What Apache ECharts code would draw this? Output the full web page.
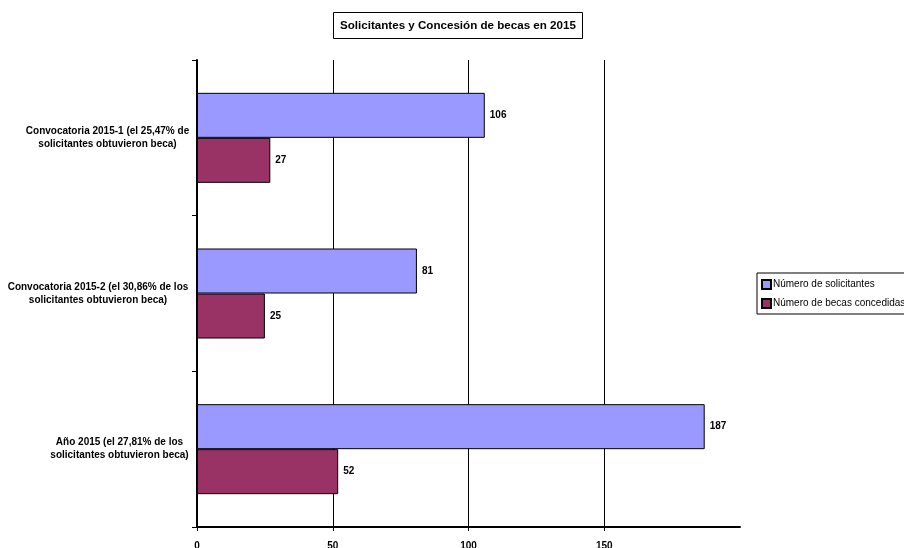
<!DOCTYPE html>
<html><head><meta charset="utf-8">
<script src="https://cdn.jsdelivr.net/npm/echarts@6/dist/echarts.min.js"></script>
<style>html,body{margin:0;padding:0;background:#fff}#c{width:904px;height:548px}</style>
</head><body><div id="c"></div>
<script>
const categories = [
  "Convocatoria 2015-1 (el 25,47% de\nsolicitantes obtuvieron beca)",
  "Convocatoria 2015-2 (el 30,86% de los\nsolicitantes obtuvieron beca)",
  "Año 2015 (el 27,81% de los\nsolicitantes obtuvieron beca)"
];
const seriesNames = ["Número de solicitantes", "Número de becas concedidas"];
const solicitantes = [106, 81, 187];
const concedidas = [27, 25, 52];
const xTicks = [0, 50, 100, 150];

const FONT = '"Liberation Sans Narrow", "Arial Narrow", "Liberation Sans", sans-serif';
const labelWidths = [161, 180, 137];

const chart = echarts.init(document.getElementById('c'), null, {renderer: 'canvas'});
chart.setOption({
  animation: false,
  backgroundColor: '#fff',
  title: {
    text: 'Solicitantes y Concesión de becas en 2015',
    left: 333, top: 12,
    padding: [8, 7, 7, 7],
    borderColor: '#000', borderWidth: 1,
    textStyle: {fontFamily: FONT, fontSize: 11.6, fontWeight: 'bold', color: '#000'}
  },
  legend: {
    orient: 'vertical',
    left: 757, top: 273,
    padding: [6, 6, 5, 4],
    itemGap: 8,
    itemWidth: 9, itemHeight: 9,
    icon: 'rect',
    borderColor: '#000', borderWidth: 1,
    textStyle: {fontFamily: FONT, fontSize: 10, color: '#000', padding: [0, 0, 0, -3]},
    data: seriesNames
  },
  grid: {left: 197, right: 164, top: 60, bottom: 21, containLabel: false, outerBoundsMode: 'none'},
  xAxis: {
    type: 'value', min: 0, max: 200, interval: 50,
    axisLine: {show: true, lineStyle: {color: '#000', width: 2}},
    axisTick: {show: true, length: 4, lineStyle: {color: '#000', width: 1}},
    axisLabel: {
      showMaxLabel: false, margin: 14,
      fontFamily: FONT, fontSize: 10, fontWeight: 'bold', color: '#000',
      formatter: v => xTicks.includes(v) ? String(v) : ''
    },
    splitLine: {show: true, showMinLine: false, showMaxLine: false, lineStyle: {color: '#000', width: 1}}
  },
  yAxis: {
    type: 'category', inverse: true, data: categories,
    axisLine: {show: true, lineStyle: {color: '#000', width: 2}},
    axisTick: {show: true, length: 5, inside: false, lineStyle: {color: '#000', width: 1}},
    axisLabel: {
      margin: 9,
      color: '#000',
      formatter: (v, i) => v.split('\n').map(l => '{c' + i + '|' + l + '}').join('\n'),
      rich: {
        c0: {width: labelWidths[0], align: 'center', fontFamily: FONT, fontSize: 10, fontWeight: 'bold', color: '#000', lineHeight: 13},
        c1: {width: labelWidths[1], align: 'center', fontFamily: FONT, fontSize: 10, fontWeight: 'bold', color: '#000', lineHeight: 13},
        c2: {width: labelWidths[2], align: 'center', fontFamily: FONT, fontSize: 10, fontWeight: 'bold', color: '#000', lineHeight: 13}
      }
    },
    splitLine: {show: false}
  },
  series: [
    {
      name: seriesNames[0], type: 'bar', data: solicitantes,
      barWidth: 45, barGap: '0%', barCategoryGap: '42%',
      itemStyle: {color: '#9999FF', borderColor: '#000', borderWidth: 1},
      label: {show: true, position: 'right', distance: 5, fontFamily: FONT, fontSize: 10, fontWeight: 'bold', color: '#000'}
    },
    {
      name: seriesNames[1], type: 'bar', data: concedidas,
      barWidth: 45, barGap: '0%', barCategoryGap: '42%',
      itemStyle: {color: '#993366', borderColor: '#000', borderWidth: 1},
      label: {show: true, position: 'right', distance: 5, fontFamily: FONT, fontSize: 10, fontWeight: 'bold', color: '#000'}
    }
  ]
});
</script></body></html>
